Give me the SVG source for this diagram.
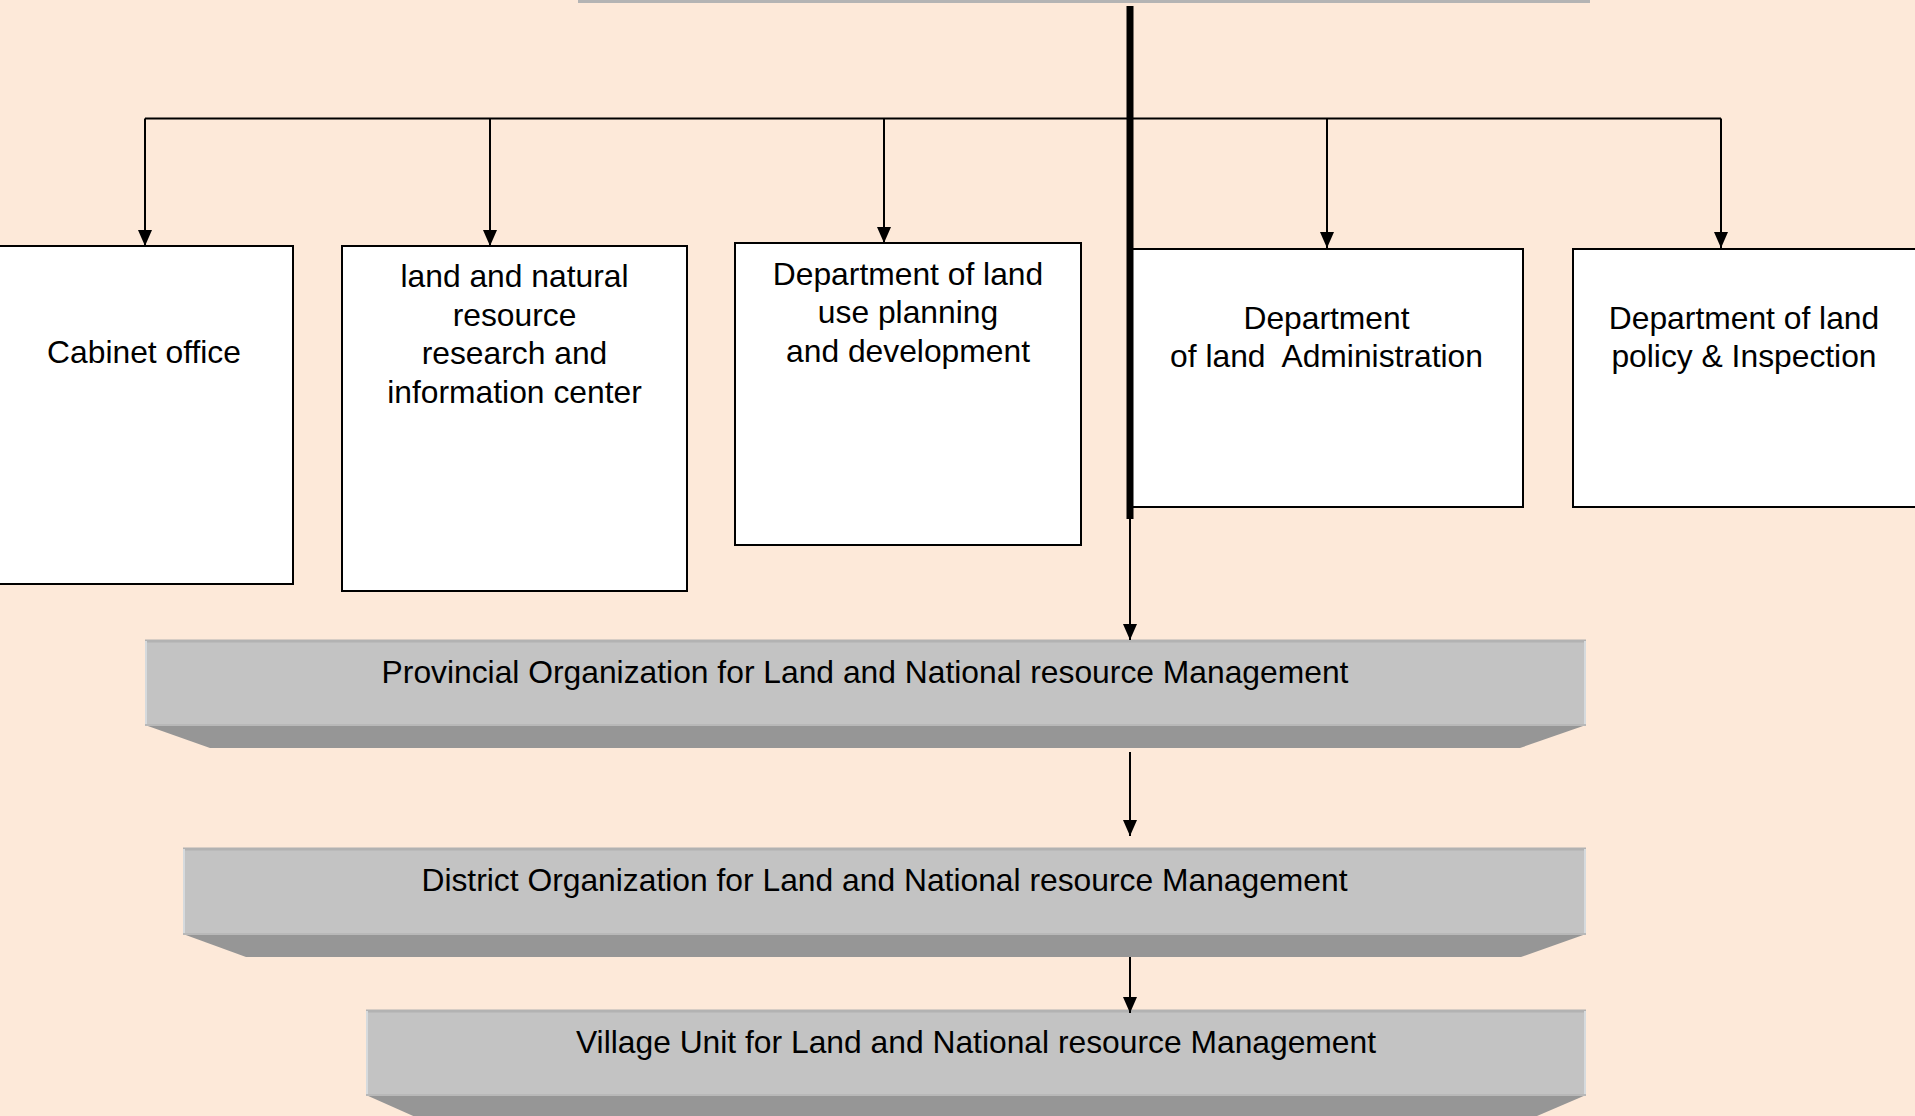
<svg xmlns="http://www.w3.org/2000/svg" width="1915" height="1116" viewBox="0 0 1915 1116">
<style>
  .bg{fill:#FDE9D9}
  .box{fill:#ffffff;stroke:#000000;stroke-width:2}
  .t{font-family:"Liberation Sans",Arial,sans-serif;font-size:31.8px;fill:#000000;text-anchor:middle;white-space:pre}
  .face{fill:#c3c3c3}
  .shade{fill:#969696}
  .topedge{stroke:#b2b2b2;stroke-width:3;fill:none}
  .sideedge{stroke:#d6dadd;stroke-width:2;fill:none}
  .conn{stroke:#000000;stroke-width:2;fill:none}
  .thick{stroke:#000000;stroke-width:7;fill:none}
</style>
<defs>
  <marker id="arr" markerUnits="userSpaceOnUse" markerWidth="16" markerHeight="14" viewBox="0 0 16 14" refX="16" refY="7" orient="auto">
    <path d="M0,0 L16,7 L0,14 Z" fill="#000000"/>
  </marker>
</defs>
<rect class="bg" x="0" y="0" width="1915" height="1116"/>

<g id="top-node">
  <rect x="578" y="-12" width="1012" height="12" fill="#9c9c9c"/>
  <line x1="578" y1="1.5" x2="1590" y2="1.5" stroke="#b4b4b4" stroke-width="3"/>
</g>

<g id="cabinet-office">
  <rect class="box" x="-4" y="246" width="297" height="338"/>
  <text class="t" x="144" y="363">Cabinet office</text>
</g>

<g id="research-center">
  <rect class="box" x="342" y="246" width="345" height="345"/>
  <text class="t" x="514.5" y="287">land and natural</text>
  <text class="t" x="514.5" y="325.5">resource</text>
  <text class="t" x="514.5" y="364">research and</text>
  <text class="t" x="514.5" y="402.5">information center</text>
</g>

<g id="land-use-planning">
  <rect class="box" x="735" y="243" width="346" height="302"/>
  <text class="t" x="908" y="285">Department of land</text>
  <text class="t" x="908" y="323">use planning</text>
  <text class="t" x="908" y="362">and development</text>
</g>

<g id="land-administration">
  <rect class="box" x="1130" y="249" width="393" height="258"/>
  <text class="t" x="1326.5" y="329">Department</text>
  <text class="t" x="1326.5" y="366.5">of land  Administration</text>
</g>

<g id="land-policy">
  <rect class="box" x="1573" y="249" width="346" height="258"/>
  <text class="t" x="1744" y="329">Department of land</text>
  <text class="t" x="1744" y="366.5">policy &amp; Inspection</text>
</g>

<g id="provincial">
  <polygon class="shade" points="145,725 1586,725 1520,748 210,748"/>
  <rect class="face" x="145" y="640" width="1441" height="85"/>
  <line class="topedge" x1="145" y1="641" x2="1586" y2="641"/>
  <line class="sideedge" x1="146" y1="641" x2="146" y2="725"/>
  <line class="sideedge" x1="1585" y1="641" x2="1585" y2="725"/>
  <line x1="145" y1="725" x2="1586" y2="725" stroke="#b8b8b8" stroke-width="2"/>
  <text class="t" x="865" y="683">Provincial Organization for Land and National resource Management</text>
</g>

<g id="district">
  <polygon class="shade" points="183,934 1586,934 1521,957 246,957"/>
  <rect class="face" x="183" y="848" width="1403" height="86"/>
  <line class="topedge" x1="183" y1="849" x2="1586" y2="849"/>
  <line class="sideedge" x1="184" y1="849" x2="184" y2="934"/>
  <line class="sideedge" x1="1585" y1="849" x2="1585" y2="934"/>
  <line x1="183" y1="934" x2="1586" y2="934" stroke="#b8b8b8" stroke-width="2"/>
  <text class="t" x="884.5" y="891">District Organization for Land and National resource Management</text>
</g>

<g id="village">
  <polygon class="shade" points="366,1095 1586,1095 1530,1119 420,1119"/>
  <rect class="face" x="366" y="1010" width="1220" height="85"/>
  <line class="topedge" x1="366" y1="1011" x2="1586" y2="1011"/>
  <line class="sideedge" x1="367" y1="1011" x2="367" y2="1095"/>
  <line class="sideedge" x1="1585" y1="1011" x2="1585" y2="1095"/>
  <line x1="366" y1="1095" x2="1586" y2="1095" stroke="#b8b8b8" stroke-width="2"/>
  <text class="t" x="976" y="1053">Village Unit for Land and National resource Management</text>
</g>

<g id="connectors">
  <line class="conn" x1="145" y1="118.5" x2="1721" y2="118.5"/>
  <line class="conn" x1="145" y1="118.5" x2="145" y2="246" marker-end="url(#arr)"/>
  <line class="conn" x1="490" y1="118.5" x2="490" y2="246" marker-end="url(#arr)"/>
  <line class="conn" x1="884" y1="118.5" x2="884" y2="243" marker-end="url(#arr)"/>
  <line class="conn" x1="1327" y1="118.5" x2="1327" y2="248" marker-end="url(#arr)"/>
  <line class="conn" x1="1721" y1="118.5" x2="1721" y2="248" marker-end="url(#arr)"/>
  <line class="thick" x1="1130" y1="6" x2="1130" y2="519"/>
  <line class="conn" x1="1130" y1="519" x2="1130" y2="640" marker-end="url(#arr)"/>
  <line class="conn" x1="1130" y1="752" x2="1130" y2="836" marker-end="url(#arr)"/>
  <line class="conn" x1="1130" y1="957" x2="1130" y2="1013" marker-end="url(#arr)"/>
</g>
</svg>
